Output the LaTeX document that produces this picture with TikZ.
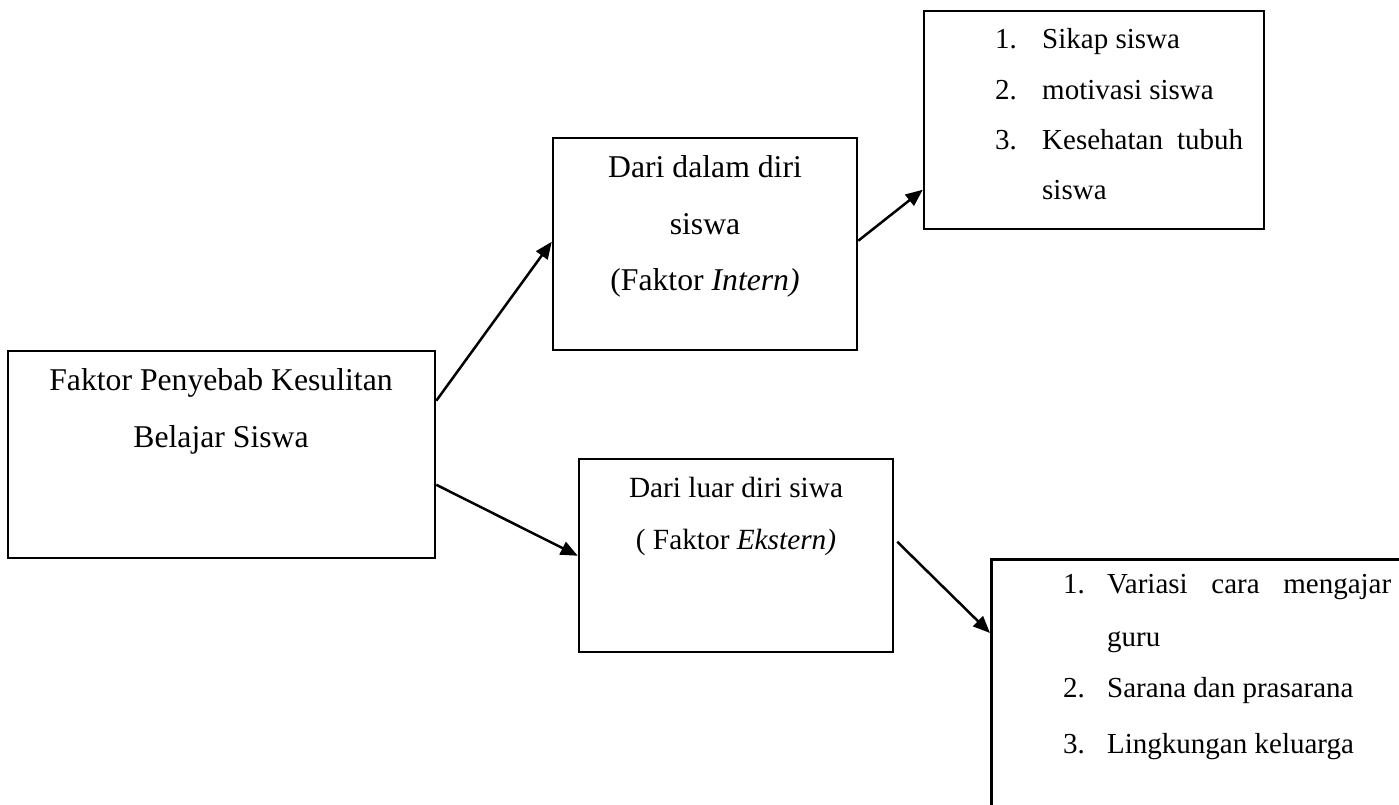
\documentclass[tikz,border=0pt]{standalone}
\usepackage{fontspec}
\setmainfont{Liberation Serif}
\usetikzlibrary{arrows.meta}
\tikzset{
  box/.style={draw=black, line width=2.5pt, rectangle, inner sep=0pt, fill=none},
  arr/.style={draw=black, line width=2.5pt, -{Triangle[length=17pt,width=14pt]}},
  bigtxt/.style={inner sep=0pt, anchor=base, font=\fontsize{31.7}{38}\selectfont},
  smalltxt/.style={inner sep=0pt, anchor=base west, font=\fontsize{29}{35}\selectfont},
  midtxt/.style={inner sep=0pt, anchor=base, font=\fontsize{29.3}{35}\selectfont},
}
\begin{document}
\begin{tikzpicture}[x=1pt,y=-1pt]
\clip (0,0) rectangle (1399,805);
\fill[white] (0,0) rectangle (1399,805);

% boxes
\node[box, minimum width=427pt, minimum height=207pt] (main) at (221.5,454.5) {};
\node[box, minimum width=304pt, minimum height=212pt] (intern) at (705,244) {};
\node[box, minimum width=314pt, minimum height=193pt] (ekstern) at (736,555.5) {};
\node[box, minimum width=340pt, minimum height=218pt] (tr) at (1094,120) {};
\node[box, minimum width=560pt, minimum height=400pt, anchor=north west] (br) at (990,558) {};

% main text
\node[bigtxt] (m1) at (221,390) {Faktor Penyebab Kesulitan};
\node[bigtxt] (m2) at (221,447) {Belajar Siswa};

% intern text
\node[bigtxt] (i1) at (705,178) {Dari dalam diri};
\node[bigtxt] (i2) at (705,234) {siswa};
\node[bigtxt] (i3) at (705,290) {(Faktor \textit{Intern)}};

% ekstern text
\node[midtxt] (e1) at (736,497) {Dari luar diri siwa};
\node[midtxt] (e2) at (736,549) {( Faktor \textit{Ekstern)}};

% top right list
\node[smalltxt] (t1n) at (995,49) {1.};
\node[smalltxt] (t1) at (1042,49) {Sikap siswa};
\node[smalltxt] (t2n) at (995,100) {2.};
\node[smalltxt] (t2) at (1042,100) {motivasi siswa};
\node[smalltxt] (t3n) at (995,150) {3.};
\node[smalltxt] (t3) at (1042,150) {\makebox[201pt][l]{Kesehatan\hfill tubuh}};
\node[smalltxt] (t4) at (1042,200) {siswa};

% bottom right list
\node[smalltxt] (b1n) at (1063,593) {1.};
\node[smalltxt] (b1) at (1107,593) {\makebox[284pt][l]{Variasi\hfill cara\hfill mengajar}};
\node[smalltxt] (b2) at (1107,646) {guru};
\node[smalltxt] (b3n) at (1063,697) {2.};
\node[smalltxt] (b3) at (1107,697) {Sarana dan prasarana};
\node[smalltxt] (b4n) at (1063,753) {3.};
\node[smalltxt] (b4) at (1107,753) {Lingkungan keluarga};

% arrows
\draw[arr] ([yshift=-51pt]main.north east) -- ([yshift=-105pt]intern.north west);
\draw[arr] ([yshift=-135pt]main.north east) -- ([yshift=-98pt]ekstern.north west);
\draw[arr] ([yshift=-104pt]intern.north east) -- ([yshift=-180pt]tr.north west);
\draw[arr] ([xshift=3pt,yshift=-84pt]ekstern.north east) -- ([yshift=-75pt]br.north west);
\end{tikzpicture}
\end{document}
